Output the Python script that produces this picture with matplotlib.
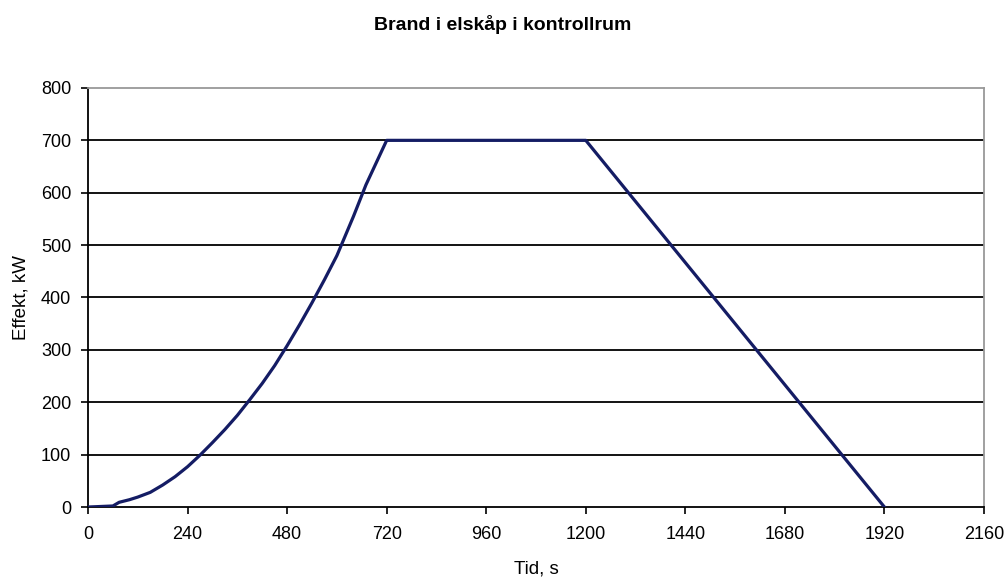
import matplotlib
matplotlib.use('Agg')
import matplotlib.pyplot as plt

# Heat release rate curve
tid = [0, 30, 60, 75, 100, 120, 150, 180, 210, 240, 270, 300, 330, 360, 390,
       420, 450, 480, 510, 540, 570, 600, 640, 670, 720, 1200, 1920]
effekt = [0, 1, 2, 9, 14, 19, 28, 42, 58, 77, 99, 123, 148, 175, 205,
          236, 270, 308, 348, 390, 434, 480, 555, 615, 700, 700, 0]

x_ticks = list(range(0, 2161, 240))
y_ticks = list(range(0, 801, 100))

plt.rcParams['font.family'] = ['Liberation Sans', 'DejaVu Sans']

fig = plt.figure(figsize=(10.06, 5.78), dpi=100)
ax = fig.add_axes([0.0875, 0.1228, 0.8906, 0.725])

# horizontal gridlines, black like the old Excel chart
for y in y_ticks[1:-1]:
    ax.axhline(y, color='black', linewidth=1.3, zorder=1)

ax.plot(tid, effekt, color='#141c64', linewidth=2.3, zorder=3)

ax.set_xlim(0, 2160)
ax.set_ylim(0, 800)
ax.set_xticks(x_ticks)
ax.set_yticks(y_ticks)
ax.tick_params(axis='both', labelsize=13, length=5, width=1.2, direction='out')
ax.tick_params(axis='x', pad=9)
ax.tick_params(axis='y', pad=7)

ax.spines['left'].set_color('black')
ax.spines['bottom'].set_color('black')
ax.spines['top'].set_color('#999999')
ax.spines['right'].set_color('#999999')
for s in ax.spines.values():
    s.set_linewidth(1.3)

ax.set_xlabel('Tid, s', fontsize=13.5, labelpad=12)
ax.set_ylabel('Effekt, kW', fontsize=13.5, labelpad=8)
fig.suptitle('Brand i elskåp i kontrollrum', fontsize=14, fontweight='bold',
             y=0.957, va='center')

fig.savefig('out.png', dpi=100)
